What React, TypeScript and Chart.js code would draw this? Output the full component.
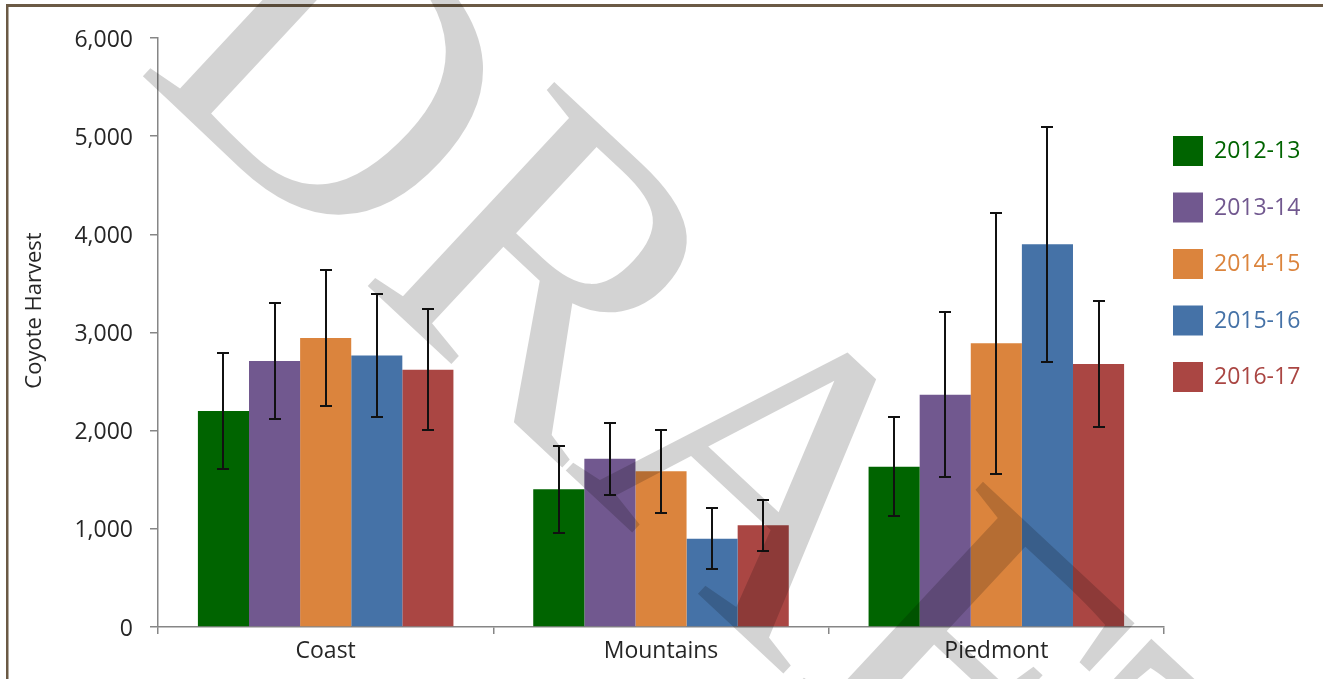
import React, { useEffect, useRef } from 'react';
import { Chart, registerables } from 'chart.js';

Chart.register(...registerables);

// ---- data ----
const regions = ['Coast', 'Mountains', 'Piedmont'];
const seasons = ['2012-13', '2013-14', '2014-15', '2015-16', '2016-17'];

const harvest2012 = [2200, 1402, 1632];
const harvest2013 = [2710, 1715, 2365];
const harvest2014 = [2945, 1587, 2890];
const harvest2015 = [2765, 899, 3898];
const harvest2016 = [2620, 1037, 2679];

const error2012 = [590, 443, 505];
const error2013 = [590, 367, 840];
const error2014 = [690, 423, 1330];
const error2015 = [630, 310, 1197];
const error2016 = [615, 260, 642];

const yMin = 0;
const yMax = 6000;
const yStep = 1000;

const yAxisTitle = 'Coyote Harvest';
const watermarkText = 'DRAFT';

const seriesColors = ['#006400', '#71588F', '#DB843D', '#4572A7', '#AA4643'];

const seriesValues = [harvest2012, harvest2013, harvest2014, harvest2015, harvest2016];
const seriesErrors = [error2012, error2013, error2014, error2015, error2016];

const FONT = '"Open Sans", sans-serif';
const TEXT = '#262626';
const AXIS = '#868686';

const customPlugin = {
  id: 'customDecor',
  beforeDraw(chart: any) {
    const ctx = chart.ctx;
    ctx.save();
    ctx.fillStyle = '#ffffff';
    ctx.fillRect(0, 0, chart.width, chart.height);
    ctx.restore();
  },
  afterDatasetsDraw(chart: any) {
    const ctx = chart.ctx;
    const yScale = chart.scales.y;
    ctx.save();
    ctx.strokeStyle = '#111111';
    ctx.lineWidth = 2;
    chart.data.datasets.forEach((ds: any, i: number) => {
      const meta = chart.getDatasetMeta(i);
      meta.data.forEach((bar: any, j: number) => {
        const v = ds.data[j];
        const e = ds.errorBars[j];
        const yTop = Math.round(yScale.getPixelForValue(v + e));
        const yBot = Math.round(yScale.getPixelForValue(v - e));
        const x = Math.round(bar.x);
        ctx.beginPath();
        ctx.moveTo(x, yTop);
        ctx.lineTo(x, yBot);
        ctx.moveTo(x - 6, yTop);
        ctx.lineTo(x + 6, yTop);
        ctx.moveTo(x - 6, yBot);
        ctx.lineTo(x + 6, yBot);
        ctx.stroke();
      });
    });
    ctx.restore();
  },
  afterDraw(chart: any) {
    const ctx = chart.ctx;
    const area = chart.chartArea;

    // legend
    ctx.save();
    const lx = area.right + 9;
    const ly = area.top + 98;
    ctx.font = `23px ${FONT}`;
    ctx.textBaseline = 'alphabetic';
    ctx.textAlign = 'left';
    chart.data.datasets.forEach((ds: any, i: number) => {
      const top = ly + i * 56.5;
      ctx.fillStyle = ds.backgroundColor;
      ctx.fillRect(lx, top, 30, 30);
      ctx.fillText(ds.label, lx + 41, top + 22);
    });
    ctx.restore();

    // y axis title
    ctx.save();
    ctx.font = `22px ${FONT}`;
    ctx.fillStyle = TEXT;
    ctx.textAlign = 'center';
    ctx.textBaseline = 'middle';
    ctx.translate(area.left - 123, (area.top + area.bottom) / 2 - 22);
    ctx.rotate(-Math.PI / 2);
    ctx.fillText(yAxisTitle, 0, 0);
    ctx.restore();

    // frame
    ctx.save();
    ctx.fillStyle = '#6b5a45';
    ctx.fillRect(6, 4, chart.width, 3);
    ctx.fillRect(6, 4, 2.5, chart.height);
    ctx.restore();

    // watermark
    ctx.save();
    ctx.globalCompositeOperation = 'multiply';
    ctx.fillStyle = '#d3d3d3';
    ctx.font = '422px "Liberation Serif", serif';
    ctx.textAlign = 'left';
    ctx.textBaseline = 'alphabetic';
    ctx.translate(134, 68);
    ctx.rotate((43 * Math.PI) / 180);
    ctx.fillText(watermarkText, 0, 0);
    ctx.restore();
  },
};

export default function App() {
  const canvasRef = useRef<HTMLCanvasElement | null>(null);

  useEffect(() => {
    const canvas = canvasRef.current;
    if (!canvas) return;
    const chart = new Chart(canvas, {
      type: 'bar',
      data: {
        labels: regions,
        datasets: seasons.map((label, i) => ({
          label,
          data: seriesValues[i],
          errorBars: seriesErrors[i],
          backgroundColor: seriesColors[i],
          borderWidth: 0,
          categoryPercentage: 0.762,
          barPercentage: 1.0,
        })) as any,
      },
      options: {
        responsive: false,
        animation: false,
        devicePixelRatio: 1,
        layout: { padding: { top: 38, right: 159, bottom: 0, left: 0 } },
        plugins: {
          legend: { display: false },
          tooltip: { enabled: false },
          title: { display: false },
        },
        scales: {
          x: {
            offset: true,
            grid: {
              display: true,
              drawOnChartArea: false,
              drawTicks: true,
              tickLength: 7,
              color: AXIS,
              lineWidth: 1.5,
            },
            border: { display: true, color: AXIS, width: 1.5 },
            ticks: {
              color: TEXT,
              font: { family: FONT, size: 23 },
              padding: 4,
            },
            afterFit: (scale: any) => {
              scale.height = 52;
            },
          },
          y: {
            min: yMin,
            max: yMax,
            grid: {
              display: true,
              drawOnChartArea: false,
              drawTicks: true,
              tickLength: 8,
              color: AXIS,
              lineWidth: 1.5,
            },
            border: { display: true, color: AXIS, width: 1.5 },
            ticks: {
              stepSize: yStep,
              color: TEXT,
              font: { family: FONT, size: 23 },
              padding: 17,
              labelOffset: 2,
              callback: (v: any) => Number(v).toLocaleString('en-US'),
            },
            afterFit: (scale: any) => {
              scale.width = 158;
            },
          },
        },
      },
      plugins: [customPlugin],
    });
    return () => chart.destroy();
  }, []);

  return (
    <div style={{ position: 'fixed', left: 0, top: 0, width: 1323, height: 679, background: '#fff' }}>
      <canvas ref={canvasRef} width={1323} height={679} style={{ display: 'block', width: 1323, height: 679 }} />
    </div>
  );
}
